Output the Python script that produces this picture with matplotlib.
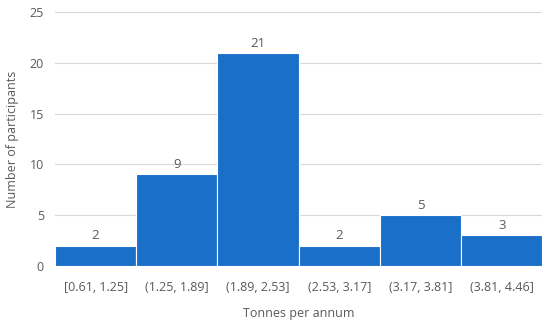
import matplotlib
matplotlib.use("Agg")
import matplotlib.pyplot as plt

# histogram bins and counts
bins = ["[0.61, 1.25]", "(1.25, 1.89]", "(1.89, 2.53]", "(2.53, 3.17]", "(3.17, 3.81]", "(3.81, 4.46]"]
counts = [2, 9, 21, 2, 5, 3]

plt.rcParams['font.family'] = ['Open Sans', 'DejaVu Sans']
text_col = '#595959'

fig = plt.figure(figsize=(5.5, 3.25), dpi=100)
ax = fig.add_axes([0.1, 0.182, 0.886, 0.781])

x = range(len(bins))
ax.bar(x, counts, width=1.0, color='#1a70c8', edgecolor='white', linewidth=0.8, zorder=3)
for i, c in zip(x, counts):
    ax.text(i, c + 0.3, str(c), ha='center', va='bottom', fontsize=9.5, color=text_col)

ax.set_xlim(-0.5, len(bins) - 0.5)
ax.set_ylim(0, 25)
ax.set_yticks([0, 5, 10, 15, 20, 25])
ax.set_xticks(list(x))
ax.set_xticklabels(bins)
ax.grid(axis='y', color='#d9d9d9', linewidth=0.8, zorder=0)
for s in ax.spines.values():
    s.set_visible(False)
ax.tick_params(length=0, labelsize=9, colors=text_col, pad=8)
ax.tick_params(axis='x', pad=11)
ax.set_xlabel("Tonnes per annum", fontsize=9, color=text_col, labelpad=9)
ax.set_ylabel("Number of participants", fontsize=9, color=text_col, labelpad=8)

fig.savefig("out.png", dpi=100)
